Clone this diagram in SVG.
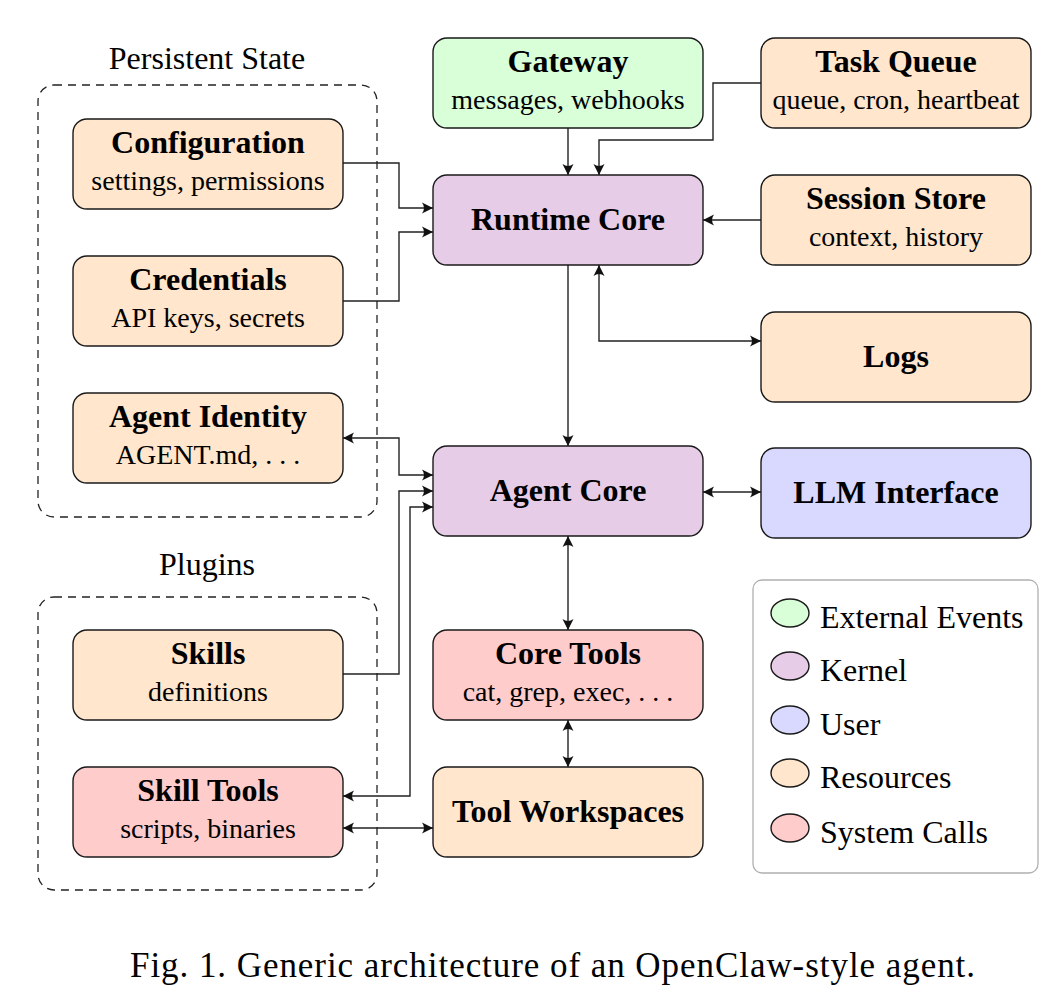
<svg xmlns="http://www.w3.org/2000/svg" width="1064" height="1006" viewBox="0 0 1064 1006">
<style>
.node{stroke:#1a1a1a;stroke-width:1.4}
.res{fill:#ffe6cc}.ker{fill:#e6cce6}.ext{fill:#d9ffd9}.usr{fill:#d9d9ff}.sys{fill:#ffcccc}
.t{font-family:"Liberation Serif","Times New Roman",serif;font-weight:bold;font-size:32px;text-anchor:middle;fill:#000}
.s{font-family:"Liberation Serif","Times New Roman",serif;font-size:28px;text-anchor:middle;fill:#000}
.lbl{font-family:"Liberation Serif","Times New Roman",serif;font-size:32px;fill:#000}
.cap{font-family:"Liberation Serif","Times New Roman",serif;font-size:35px;fill:#000}
.grp{fill:none;stroke:#222;stroke-width:1.3;stroke-dasharray:8 6}
.c{fill:none;stroke:#222;stroke-width:1.4}
</style>
<defs>
<marker id="ah" viewBox="-12 -7 14 14" refX="0" refY="0" markerWidth="14" markerHeight="14" markerUnits="userSpaceOnUse" orient="auto-start-reverse">
<path d="M0,0 L-11,-5.5 Q-7,0 -11,5.5 Z" fill="#111"/>
</marker>
</defs>
<rect width="1064" height="1006" fill="#fff"/>

<g id="group-persistent">
<rect class="grp" x="38" y="85" width="339" height="432" rx="16"/>
<text class="lbl" x="207" y="69" text-anchor="middle">Persistent State</text>
</g>
<g id="group-plugins">
<rect class="grp" x="38" y="597" width="339" height="293" rx="16"/>
<text class="lbl" x="207" y="575" text-anchor="middle">Plugins</text>
</g>

<g id="connectors">
<path class="c" d="M343,163 H399 V208 H433" marker-end="url(#ah)"/>
<path class="c" d="M343,301 H399 V232 H433" marker-end="url(#ah)"/>
<path class="c" d="M568,128 V175" marker-end="url(#ah)"/>
<path class="c" d="M761,83 H713 V140 H599 V175" marker-end="url(#ah)"/>
<path class="c" d="M761,220 H703" marker-end="url(#ah)"/>
<path class="c" d="M599,265 V341 H761" marker-start="url(#ah)" marker-end="url(#ah)"/>
<path class="c" d="M568,265 V446" marker-end="url(#ah)"/>
<path class="c" d="M703,492 H761" marker-start="url(#ah)" marker-end="url(#ah)"/>
<path class="c" d="M568,536 V630" marker-start="url(#ah)" marker-end="url(#ah)"/>
<path class="c" d="M568,720 V767" marker-start="url(#ah)" marker-end="url(#ah)"/>
<path class="c" d="M343,438 H399 V475 H433" marker-start="url(#ah)" marker-end="url(#ah)"/>
<path class="c" d="M343,674 H399 V491 H433" marker-end="url(#ah)"/>
<path class="c" d="M343,796 H410 V507 H433" marker-start="url(#ah)" marker-end="url(#ah)"/>
<path class="c" d="M343,828 H433" marker-start="url(#ah)" marker-end="url(#ah)"/>
</g>

<g id="configuration">
<rect class="node res" x="73" y="119" width="270" height="90" rx="14"/>
<text class="t" x="208" y="153">Configuration</text>
<text class="s" x="208" y="190">settings, permissions</text>
</g>
<g id="credentials">
<rect class="node res" x="73" y="256" width="270" height="90" rx="14"/>
<text class="t" x="208" y="290">Credentials</text>
<text class="s" x="208" y="327">API keys, secrets</text>
</g>
<g id="agent-identity">
<rect class="node res" x="73" y="393" width="270" height="90" rx="14"/>
<text class="t" x="208" y="427">Agent Identity</text>
<text class="s" x="208" y="464">AGENT.md, . . .</text>
</g>
<g id="skills">
<rect class="node res" x="73" y="630" width="270" height="90" rx="14"/>
<text class="t" x="208" y="664">Skills</text>
<text class="s" x="208" y="701">definitions</text>
</g>
<g id="skill-tools">
<rect class="node sys" x="73" y="767" width="270" height="90" rx="14"/>
<text class="t" x="208" y="801">Skill Tools</text>
<text class="s" x="208" y="838">scripts, binaries</text>
</g>
<g id="gateway">
<rect class="node ext" x="433" y="38" width="270" height="90" rx="14"/>
<text class="t" x="568" y="72">Gateway</text>
<text class="s" x="568" y="109">messages, webhooks</text>
</g>
<g id="task-queue">
<rect class="node res" x="761" y="38" width="270" height="90" rx="14"/>
<text class="t" x="896" y="72">Task Queue</text>
<text class="s" x="896" y="109">queue, cron, heartbeat</text>
</g>
<g id="runtime-core">
<rect class="node ker" x="433" y="175" width="270" height="90" rx="14"/>
<text class="t" x="568" y="230">Runtime Core</text>
</g>
<g id="session-store">
<rect class="node res" x="761" y="175" width="270" height="90" rx="14"/>
<text class="t" x="896" y="209">Session Store</text>
<text class="s" x="896" y="246">context, history</text>
</g>
<g id="logs">
<rect class="node res" x="761" y="312" width="270" height="90" rx="14"/>
<text class="t" x="896" y="367">Logs</text>
</g>
<g id="agent-core">
<rect class="node ker" x="433" y="446" width="270" height="90" rx="14"/>
<text class="t" x="568" y="501">Agent Core</text>
</g>
<g id="llm-interface">
<rect class="node usr" x="761" y="448" width="270" height="90" rx="14"/>
<text class="t" x="896" y="503">LLM Interface</text>
</g>
<g id="core-tools">
<rect class="node sys" x="433" y="630" width="270" height="90" rx="14"/>
<text class="t" x="568" y="664">Core Tools</text>
<text class="s" x="568" y="701">cat, grep, exec, . . .</text>
</g>
<g id="tool-workspaces">
<rect class="node res" x="433" y="767" width="270" height="90" rx="14"/>
<text class="t" x="568" y="822">Tool Workspaces</text>
</g>

<g id="legend">
<rect x="753" y="580" width="285" height="293" rx="9" fill="#fff" stroke="#b0b0b0" stroke-width="1.3"/>
<ellipse class="node ext" cx="790" cy="613" rx="19" ry="14"/>
<text class="lbl" x="820" y="628">External Events</text>
<ellipse class="node ker" cx="790" cy="666" rx="19" ry="14"/>
<text class="lbl" x="820" y="681">Kernel</text>
<ellipse class="node usr" cx="790" cy="720" rx="19" ry="14"/>
<text class="lbl" x="820" y="735">User</text>
<ellipse class="node res" cx="790" cy="773" rx="19" ry="14"/>
<text class="lbl" x="820" y="788">Resources</text>
<ellipse class="node sys" cx="790" cy="828" rx="19" ry="14"/>
<text class="lbl" x="820" y="843">System Calls</text>
</g>

<text class="cap" x="130" y="977" textLength="845" lengthAdjust="spacing">Fig. 1.  Generic architecture of an OpenClaw-style agent.</text>
</svg>
